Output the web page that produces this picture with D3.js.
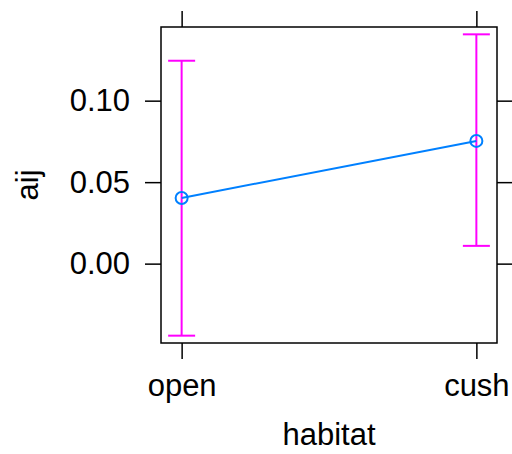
<!DOCTYPE html>
<html>
<head>
<meta charset="utf-8">
<script src="https://cdn.jsdelivr.net/npm/d3@7"></script>
<style>
  body { margin: 0; background: #fff; }
  text { font-family: "Liberation Sans", Arial, sans-serif; }
</style>
</head>
<body>
<div id="chart"></div>
<script>
// habitat effect on aij, with confidence intervals
const habitats = ["open", "cush"];
const fit = [0.0403, 0.0753];
const lower = [-0.0442, 0.0109];
const upper = [0.1245, 0.1407];
const yTicks = [0.00, 0.05, 0.10];

const width = 512, height = 454;
const panel = { left: 161, right: 497, top: 27, bottom: 343 };
const fontSize = 31;

const svg = d3.select("#chart")
  .append("svg")
  .attr("width", width)
  .attr("height", height);

// factor axis: lattice puts levels at 1..n with padding
const x = d3.scaleLinear()
  .domain([0.93, 2.07])
  .range([panel.left, panel.right]);

const y = d3.scaleLinear()
  .domain([-0.0487, 0.1452])
  .range([panel.bottom, panel.top]);

const idx = habitats.map((h, i) => i + 1);

// panel box
svg.append("rect")
  .attr("x", panel.left)
  .attr("y", panel.top)
  .attr("width", panel.right - panel.left)
  .attr("height", panel.bottom - panel.top)
  .attr("fill", "none")
  .attr("stroke", "#000")
  .attr("stroke-width", 1.5);

// axes (ticks on all four sides, labels bottom + left)
const xBottom = d3.axisBottom(x).tickValues(idx).tickFormat((d, i) => habitats[i]).tickSize(16).tickPadding(15);
const xTop = d3.axisTop(x).tickValues(idx).tickFormat("").tickSize(16);
const yLeft = d3.axisLeft(y).tickValues(yTicks).tickFormat(d3.format(".2f")).tickSize(16).tickPadding(15);
const yRight = d3.axisRight(y).tickValues(yTicks).tickFormat("").tickSize(16);

function styleAxis(g) {
  g.select(".domain").remove();
  g.selectAll(".tick line").attr("stroke", "#000").attr("stroke-width", 1.5);
  g.selectAll(".tick text")
    .attr("fill", "#000")
    .style("font-size", fontSize + "px")
    .style("font-family", "'Liberation Sans', Arial, sans-serif");
}

svg.append("g").attr("transform", `translate(0,${panel.bottom})`).call(xBottom).call(styleAxis);
svg.append("g").attr("transform", `translate(0,${panel.top})`).call(xTop).call(styleAxis);
svg.append("g").attr("transform", `translate(${panel.left},0)`).call(yLeft).call(styleAxis);
svg.append("g").attr("transform", `translate(${panel.right},0)`).call(yRight).call(styleAxis);

// error bars
const capHalf = 13.5;
const bars = svg.append("g").attr("stroke", "#ff00ff").attr("stroke-width", 2);
idx.forEach((d, i) => {
  bars.append("line")
    .attr("x1", x(d)).attr("x2", x(d))
    .attr("y1", y(lower[i])).attr("y2", y(upper[i]));
  bars.append("line")
    .attr("x1", x(d) - capHalf).attr("x2", x(d) + capHalf)
    .attr("y1", y(upper[i])).attr("y2", y(upper[i]));
  bars.append("line")
    .attr("x1", x(d) - capHalf).attr("x2", x(d) + capHalf)
    .attr("y1", y(lower[i])).attr("y2", y(lower[i]));
});

// fitted line and points
const line = d3.line()
  .x((d, i) => x(idx[i]))
  .y(d => y(d));

svg.append("path")
  .datum(fit)
  .attr("d", line)
  .attr("fill", "none")
  .attr("stroke", "#0080ff")
  .attr("stroke-width", 2);

svg.append("g")
  .selectAll("circle")
  .data(fit)
  .enter()
  .append("circle")
  .attr("cx", (d, i) => x(idx[i]))
  .attr("cy", d => y(d))
  .attr("r", 6)
  .attr("fill", "none")
  .attr("stroke", "#0080ff")
  .attr("stroke-width", 2);

// axis titles
svg.append("text")
  .attr("x", (panel.left + panel.right) / 2)
  .attr("y", 445)
  .attr("text-anchor", "middle")
  .style("font-size", fontSize + "px")
  .text("habitat");

svg.append("text")
  .attr("transform", `translate(38,${(panel.top + panel.bottom) / 2}) rotate(-90)`)
  .attr("text-anchor", "middle")
  .style("font-size", fontSize + "px")
  .text("aij");
</script>
</body>
</html>
